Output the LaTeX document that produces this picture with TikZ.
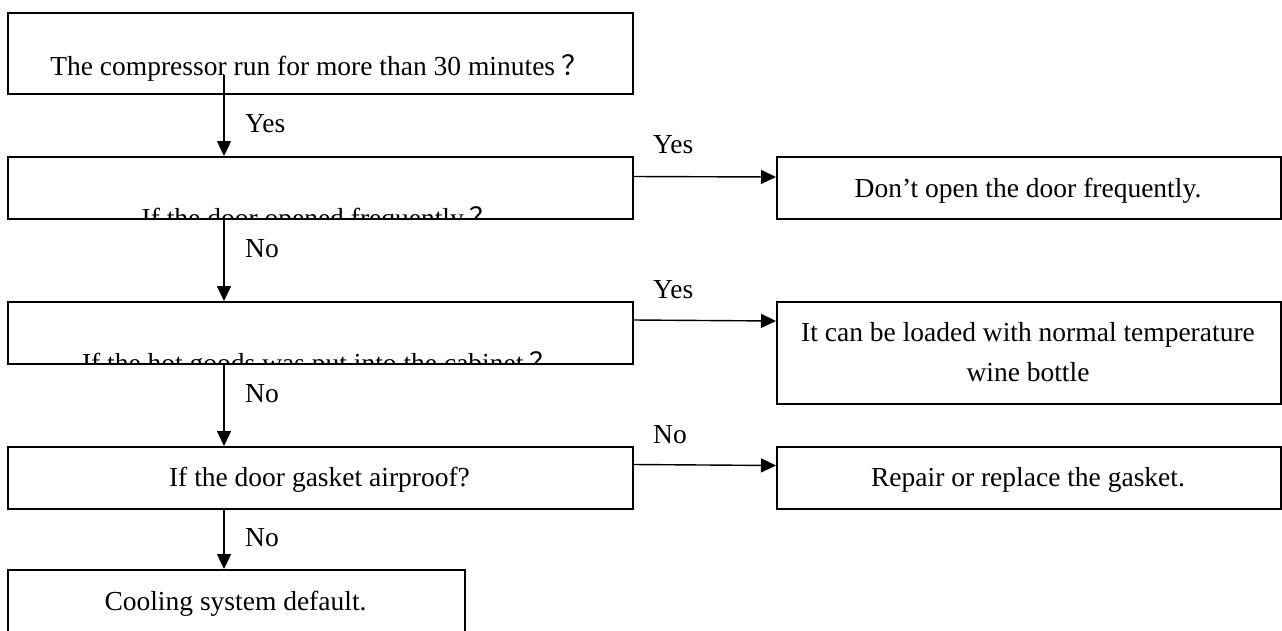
\documentclass[tikz,border=0pt]{standalone}
\usepackage{fontspec}
\setmainfont{Liberation Serif}
\newfontfamily\cjk{Noto Sans CJK SC}
\usetikzlibrary{arrows.meta}
\tikzset{
  box/.style={draw, line width=1.6pt, inner sep=0pt, anchor=north west},
  txt/.style={inner sep=0pt, font=\fontsize{27.5}{40}\selectfont},
  lbl/.style={inner sep=0pt, font=\fontsize{27.5}{40}\selectfont},
  arr/.style={line width=1.4pt, -{Triangle[length=15pt,width=14pt]}},
}
\newcommand{\qm}{\hspace{0.22em}\cjk{？}}
\begin{document}
\begin{tikzpicture}[x=1pt,y=-1pt]
\useasboundingbox (0,0) rectangle (1282,630);
\clip (0,0) rectangle (1282,630);
% left column boxes
\node[box, minimum width=625pt, minimum height=81pt] (b1) at (7,12) {};
\node[box, minimum width=625pt, minimum height=62pt] (b2) at (7,156) {};
\node[box, minimum width=625pt, minimum height=62pt] (b3) at (7,301) {};
\node[box, minimum width=625pt, minimum height=62pt] (b4) at (7,446) {};
\node[box, minimum width=457pt, minimum height=80pt] (b5) at (7,569) {};
% right column boxes
\node[box, minimum width=504pt, minimum height=62pt] (r1) at (776,156) {};
\node[box, minimum width=504pt, minimum height=102pt] (r2) at (776,301) {};
\node[box, minimum width=504pt, minimum height=62pt] (r3) at (776,446) {};
% texts
\node[txt, anchor=base] (t1) at (319.5,75.5) {The compressor run for more than 30 minutes\qm};
\begin{scope}
\clip (b2.south west) rectangle (b2.north east);
\node[txt, anchor=base] (t2) at (319.5,227) {If the door opened frequently\qm};
\end{scope}
\begin{scope}
\clip (b3.south west) rectangle (b3.north east);
\node[txt, anchor=base] (t3) at (319.5,372) {If the hot goods was put into the cabinet\qm};
\end{scope}
\node[txt, anchor=base] (t4) at (319.5,486) {If the door gasket airproof?};
\node[txt, anchor=base] (t5) at (235.5,610.5) {Cooling system default.};
\node[txt, anchor=base] (tr1) at (1028,197) {Don't open the door frequently.};
\node[txt, align=center] (tr2) at (1028,352.5) {It can be loaded with normal temperature\\wine bottle};
\node[txt, anchor=base] (tr3) at (1028,486) {Repair or replace the gasket.};
% connectors
\coordinate (s1) at (224,74.5);
\draw[arr] (s1) -- (s1 |- b2.north);
\draw[arr] (b2.south -| s1) -- (b3.north -| s1);
\draw[arr] (b3.south -| s1) -- (b4.north -| s1);
\draw[arr] (b4.south -| s1) -- (b5.north -| s1);
\draw[arr] (b2.east |- 0,176.5) -- (r1.west |- 0,177);
\draw[arr] (b3.east |- 0,320) -- (r2.west |- 0,321);
\draw[arr] (b4.east |- 0,464.5) -- (r3.west |- 0,465.5);
% labels
\node[lbl, anchor=west] (l1) at (245,124) {Yes};
\node[lbl, anchor=west] (l2) at (245,249) {No};
\node[lbl, anchor=west] (l3) at (245,394) {No};
\node[lbl, anchor=west] (l4) at (245,538) {No};
\node[lbl, anchor=west] (l5) at (653,145) {Yes};
\node[lbl, anchor=west] (l6) at (653,290) {Yes};
\node[lbl, anchor=west] (l7) at (653,435) {No};
\end{tikzpicture}
\end{document}
